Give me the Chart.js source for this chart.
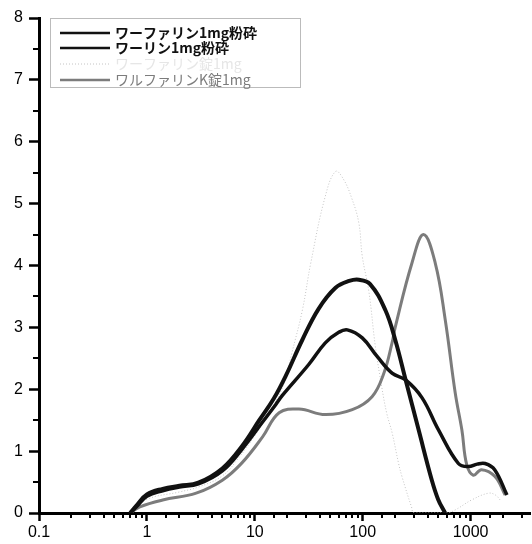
<!DOCTYPE html>
<html>
<head>
<meta charset="utf-8">
<script src="https://cdn.jsdelivr.net/npm/chart.js@4/dist/chart.umd.min.js"></script>
<style>
  html, body { margin: 0; padding: 0; background: #fff; }
  #wrap { width: 532px; height: 544px; }
</style>
</head>
<body>
<div id="wrap"><canvas id="chart" width="532" height="544"></canvas></div>
<script>
// particle size (x, log scale) vs frequency (y)
const xTickLabels = ['0.1', '1', '10', '100', '1000'];
const yTickLabels = ['0', '1', '2', '3', '4', '5', '6', '7', '8'];

const seriesNames = ['ワーファリン1mg粉砕', 'ワーリン1mg粉砕', 'ワーファリン錠1mg', 'ワルファリンK錠1mg'];

// thick black curve, peak ~3.8
const xA = [0.7, 0.8, 1, 1.4, 2, 3, 5, 7.6, 11, 15, 19.4, 27.6, 39, 56, 75, 92, 117, 162, 200, 250, 330, 437, 500, 580];
const yA = [0, 0.12, 0.3, 0.39, 0.44, 0.49, 0.72, 1.08, 1.5, 1.85, 2.22, 2.8, 3.3, 3.64, 3.75, 3.77, 3.7, 3.28, 2.8, 2.15, 1.34, 0.53, 0.22, 0];

// black curve, peak ~2.95
const xB = [0.7, 0.8, 1, 1.4, 2, 3, 5, 7.6, 11.8, 15.6, 18, 31.6, 45, 60, 72, 99, 136, 187, 250, 355, 505, 770, 955, 1150, 1360, 1670, 2170];
const yB = [0, 0.1, 0.27, 0.36, 0.42, 0.47, 0.68, 1.03, 1.47, 1.75, 1.9, 2.4, 2.75, 2.92, 2.96, 2.83, 2.53, 2.26, 2.15, 1.86, 1.34, 0.8, 0.75, 0.79, 0.8, 0.7, 0.29];

// light dotted curve, peak ~5.5
const xD = [0.7, 1, 2, 3, 5, 7, 10, 15, 18.7, 22, 27.6, 33, 45, 56, 66, 79, 92, 99, 114, 131, 150, 167, 187, 215, 231, 283, 300, 600, 720, 1020, 1460, 1700, 1900];
const yD = [0, 0.22, 0.34, 0.42, 0.6, 0.88, 1.25, 1.75, 2.1, 2.58, 3.28, 4.04, 5.12, 5.52, 5.4, 5.09, 4.69, 4.15, 3.58, 2.69, 2.04, 1.61, 1.3, 0.8, 0.59, 0.1, 0, 0, 0.05, 0.21, 0.32, 0.29, 0.2];

// gray curve, peak ~4.5
const xC = [0.7, 0.86, 1.4, 2.86, 5, 7.6, 11.8, 16.8, 25.7, 45, 80, 122, 157, 187, 200, 286, 366, 470, 582, 720, 830, 920, 1060, 1260, 1680, 2090];
const yC = [0, 0.1, 0.21, 0.32, 0.53, 0.81, 1.23, 1.62, 1.68, 1.59, 1.67, 1.88, 2.26, 2.75, 3.0, 4.04, 4.5, 4.04, 3.12, 1.94, 1.34, 0.78, 0.61, 0.7, 0.59, 0.29];

function points(xs, ys) {
  return xs.map((x, i) => ({ x, y: ys[i] }));
}

function isPow10(v) {
  const l = Math.log10(v);
  return Math.abs(l - Math.round(l)) < 1e-6;
}

const styles = [
  { color: '#111', width: 4, dash: [] },
  { color: '#111', width: 3.5, dash: [] },
  { color: '#c4c4c4', width: 1, dash: [1, 2] },
  { color: '#7c7c7c', width: 3, dash: [] },
];

const seriesData = [points(xA, yA), points(xB, yB), points(xD, yD), points(xC, yC)];

const datasets = seriesNames.map((name, i) => ({
  label: name,
  data: seriesData[i],
  borderColor: styles[i].color,
  borderWidth: styles[i].width,
  borderDash: styles[i].dash,
  pointRadius: 0,
  fill: false,
  tension: 0.4,
  order: [1, 2, 4, 3][i],
}));

// minor ticks and the boxed legend
const extrasPlugin = {
  id: 'extras',
  afterDraw(chart) {
    const ctx = chart.ctx;
    const x = chart.scales.x;
    const y = chart.scales.y;
    const area = chart.chartArea;
    ctx.save();
    ctx.strokeStyle = '#000';
    ctx.lineWidth = 2;
    x.ticks.forEach((t) => {
      if (isPow10(t.value) || t.value > x.max - 1e-9) return;
      const px = Math.round(x.getPixelForValue(t.value));
      ctx.beginPath();
      ctx.moveTo(px, area.bottom);
      ctx.lineTo(px, area.bottom + 5);
      ctx.stroke();
    });
    for (let v = 0.5; v < 8; v += 1) {
      const py = Math.round(y.getPixelForValue(v));
      ctx.beginPath();
      ctx.moveTo(area.left - 6, py);
      ctx.lineTo(area.left, py);
      ctx.stroke();
    }

    // legend
    ctx.setLineDash([1, 1]);
    ctx.lineWidth = 1;
    ctx.strokeStyle = '#777';
    ctx.strokeRect(50.5, 18.5, 250, 69);
    const rows = [33, 48, 64, 80];
    ctx.textBaseline = 'middle';
    seriesNames.forEach((name, i) => {
      const s = styles[i];
      ctx.setLineDash(s.dash);
      ctx.strokeStyle = s.color;
      ctx.lineWidth = Math.min(s.width, 2.5);
      ctx.beginPath();
      ctx.moveTo(60, rows[i]);
      ctx.lineTo(110, rows[i]);
      ctx.stroke();
      ctx.fillStyle = i === 2 ? '#e6e6e6' : s.color;
      ctx.font = (i < 2 ? 'bold ' : '') + '14px "Noto Sans CJK JP"';
      ctx.fillText(name, 115, rows[i]);
    });
    ctx.restore();
  },
};

new Chart(document.getElementById('chart'), {
  type: 'line',
  data: { datasets },
  options: {
    responsive: false,
    animation: false,
    layout: { padding: { top: 18, right: 0, left: 0, bottom: 0 } },
    plugins: { legend: { display: false }, tooltip: { enabled: false } },
    scales: {
      x: {
        type: 'logarithmic',
        min: 0.1,
        max: 3550,
        border: { color: '#000', width: 3 },
        grid: {
          drawOnChartArea: false,
          tickLength: 8,
          tickColor: '#000',
          tickWidth: (c) => (c.tick && isPow10(c.tick.value) ? 2.5 : 0),
        },
        ticks: {
          autoSkip: false,
          maxRotation: 0,
          padding: 2,
          color: '#000',
          font: { family: '"Liberation Sans", Arial', size: 16 },
          callback: (v) => {
            if (!isPow10(v)) return '';
            const idx = Math.round(Math.log10(v)) + 1;
            return xTickLabels[idx] || '';
          },
        },
        afterFit: (s) => { s.height = 31; },
      },
      y: {
        min: 0,
        max: 8,
        border: { color: '#000', width: 3 },
        grid: {
          drawOnChartArea: false,
          tickLength: 10,
          tickColor: '#000',
          tickWidth: 2.5,
        },
        ticks: {
          stepSize: 1,
          padding: 6,
          color: '#000',
          font: { family: '"Liberation Sans", Arial', size: 16 },
          callback: (v) => yTickLabels[v] ?? '',
        },
        afterFit: (s) => { s.width = 39; },
      },
    },
  },
  plugins: [extrasPlugin],
});
</script>
</body>
</html>
